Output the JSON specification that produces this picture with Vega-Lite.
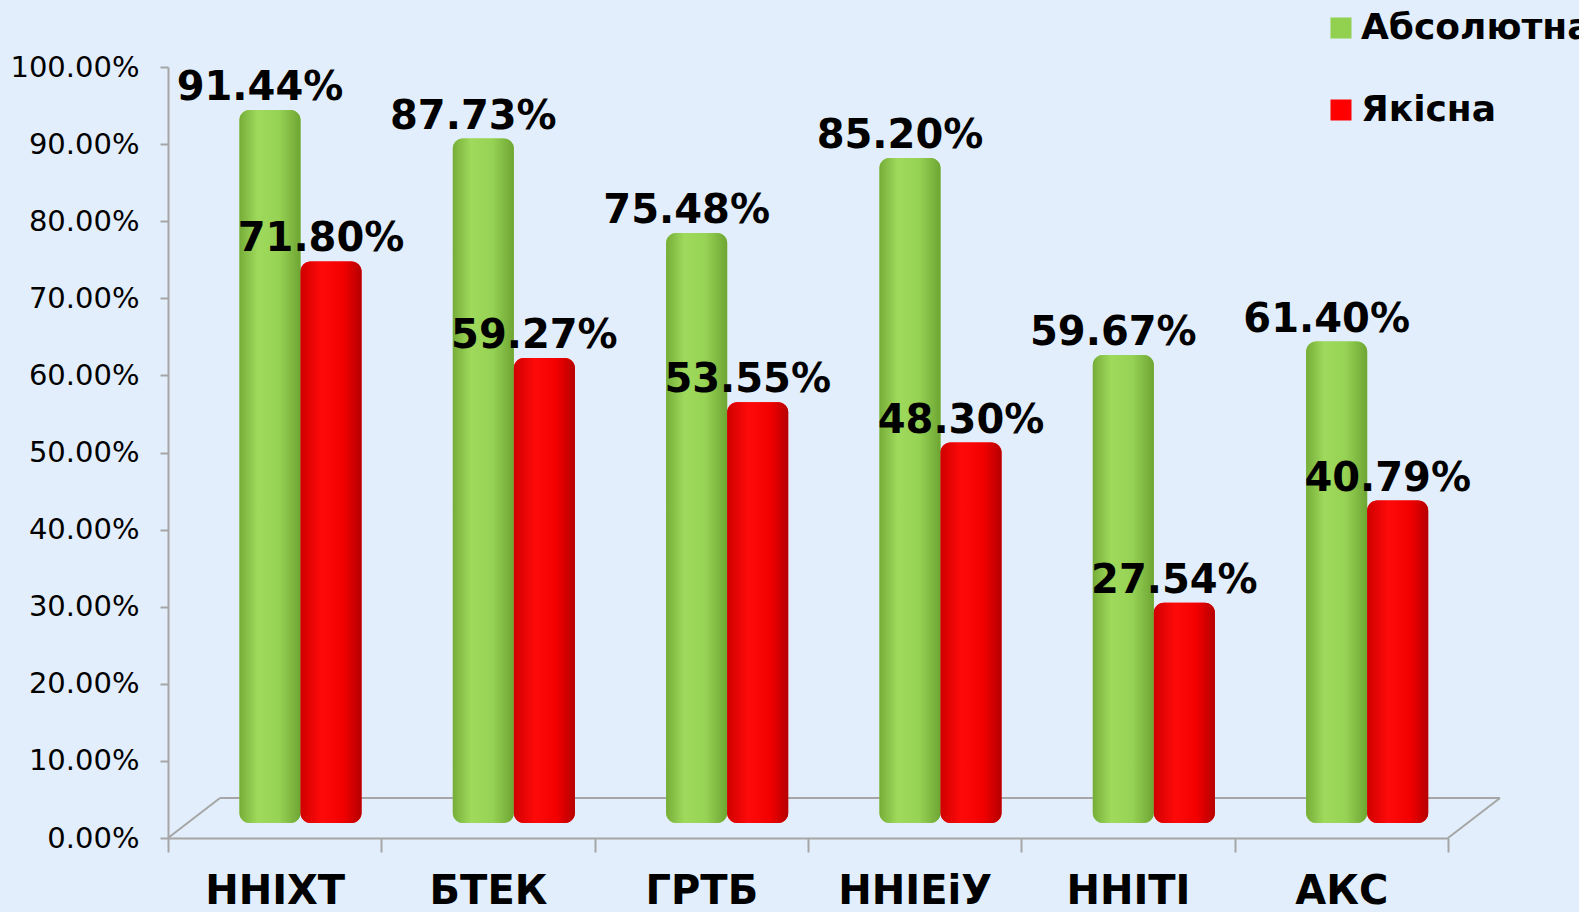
{
  "$schema": "https://vega.github.io/schema/vega-lite/v6.json",
  "autosize": {"type": "none"},
  "width": 1280,
  "height": 771,
  "padding": {"left": 168, "top": 67, "right": 131, "bottom": 74},
  "background": "#e2eefb",
  "config": {"view": {"stroke": null}},
  "data": {"values": [
    {"unit": "ННІХТ", "series": "Абсолютна", "value": 0.9144},
    {"unit": "ННІХТ", "series": "Якісна", "value": 0.7180},
    {"unit": "БТЕК", "series": "Абсолютна", "value": 0.8773},
    {"unit": "БТЕК", "series": "Якісна", "value": 0.5927},
    {"unit": "ГРТБ", "series": "Абсолютна", "value": 0.7548},
    {"unit": "ГРТБ", "series": "Якісна", "value": 0.5355},
    {"unit": "ННІЕіУ", "series": "Абсолютна", "value": 0.8520},
    {"unit": "ННІЕіУ", "series": "Якісна", "value": 0.4830},
    {"unit": "ННІТІ", "series": "Абсолютна", "value": 0.5967},
    {"unit": "ННІТІ", "series": "Якісна", "value": 0.2754},
    {"unit": "АКС", "series": "Абсолютна", "value": 0.6140},
    {"unit": "АКС", "series": "Якісна", "value": 0.4079}
  ]},
  "layer": [
    {
      "data": {"values": [{"v": 0}]},
      "mark": {"type": "rule", "color": "#a6a6a6", "strokeWidth": 2, "xOffset": 52, "x2Offset": 52, "yOffset": -40},
      "encoding": {
        "x": {"datum": "ННІХТ", "bandPosition": 0},
        "x2": {"datum": "АКС", "bandPosition": 1},
        "y": {"field": "v", "type": "quantitative"}
      }
    },
    {
      "data": {"values": [{"v": 0}]},
      "mark": {"type": "rule", "color": "#a6a6a6", "strokeWidth": 2, "x2Offset": 52, "y2Offset": -40},
      "encoding": {
        "x": {"datum": "ННІХТ", "bandPosition": 0},
        "x2": {"datum": "ННІХТ", "bandPosition": 0},
        "y": {"field": "v", "type": "quantitative"},
        "y2": {"field": "v"}
      }
    },
    {
      "data": {"values": [{"v": 0}]},
      "mark": {"type": "rule", "color": "#a6a6a6", "strokeWidth": 2, "x2Offset": 52, "y2Offset": -40},
      "encoding": {
        "x": {"datum": "АКС", "bandPosition": 1},
        "x2": {"datum": "АКС", "bandPosition": 1},
        "y": {"field": "v", "type": "quantitative"},
        "y2": {"field": "v"}
      }
    },
    {
      "mark": {"type": "bar", "yOffset": -23, "y2Offset": -15, "cornerRadius": 10},
      "encoding": {
        "x": {"field": "unit", "type": "nominal", "sort": null,
          "scale": {"domain": ["ННІХТ", "БТЕК", "ГРТБ", "ННІЕіУ", "ННІТІ", "АКС"], "paddingInner": 0, "paddingOuter": 0},
          "axis": {"title": null, "labelAngle": 0, "bandPosition": 0.5, "labelAlign": "center", "tickBand": "extent", "domainColor": "#a6a6a6", "domainWidth": 2, "tickColor": "#a6a6a6", "tickWidth": 2, "tickSize": 14, "labelPadding": 19, "labelBaseline": "top", "labelFont": "DejaVu Sans", "labelFontWeight": "bold", "labelFontSize": 40, "labelColor": "#000000"}},
        "xOffset": {"field": "series", "type": "nominal", "sort": ["Абсолютна", "Якісна"], "scale": {"paddingInner": 0, "paddingOuter": 0.748, "align": 0.783}},
        "y": {"field": "value", "type": "quantitative", "scale": {"domain": [0, 1], "nice": false, "zero": true},
          "axis": {"title": null, "values": [0, 0.1, 0.2, 0.3, 0.4, 0.5, 0.6, 0.7, 0.8, 0.9, 1], "format": ".2%", "grid": false, "domainColor": "#a6a6a6", "domainWidth": 2, "tickColor": "#a6a6a6", "tickWidth": 2, "tickSize": 8, "labelPadding": 21, "labelFont": "DejaVu Sans", "labelFontSize": 29, "labelColor": "#000000", "labelFlush": false, "labelOverlap": false}},
        "y2": {"datum": 0},
        "color": {"field": "series", "type": "nominal", "sort": ["Абсолютна", "Якісна"],
          "scale": {"domain": ["Абсолютна", "Якісна"], "range": ["#92d050", "#ff0000"]},
          "legend": {"title": null, "orient": "none", "legendX": 1155, "legendY": -57, "symbolType": "square", "symbolSize": 441, "symbolStrokeWidth": 0, "labelFont": "DejaVu Sans", "labelFontWeight": "bold", "labelFontSize": 36, "labelColor": "#000000", "labelLimit": 400, "labelOffset": 2, "rowPadding": 46, "padding": 0}}
      }
    },
    {
      "transform": [{"filter": "datum.series === 'Абсолютна'"}],
      "mark": {"type": "bar", "yOffset": -23, "y2Offset": -15, "cornerRadius": 10,
        "fill": {"gradient": "linear", "x1": 0, "y1": 0, "x2": 1, "y2": 0, "stops": [
          {"offset": 0, "color": "#76ad38"}, {"offset": 0.3, "color": "#9fda5c"}, {"offset": 0.65, "color": "#96d254"}, {"offset": 1, "color": "#6ea533"}]}},
      "encoding": {
        "x": {"field": "unit", "type": "nominal", "sort": null},
        "xOffset": {"field": "series", "type": "nominal", "sort": ["Абсолютна", "Якісна"]},
        "y": {"field": "value", "type": "quantitative"},
        "y2": {"datum": 0}
      }
    },
    {
      "transform": [{"filter": "datum.series === 'Якісна'"}],
      "mark": {"type": "bar", "yOffset": -23, "y2Offset": -15, "cornerRadius": 10,
        "fill": {"gradient": "linear", "x1": 0, "y1": 0, "x2": 1, "y2": 0, "stops": [
          {"offset": 0, "color": "#d00000"}, {"offset": 0.35, "color": "#ff0a0a"}, {"offset": 0.7, "color": "#f20000"}, {"offset": 1, "color": "#b50000"}]}},
      "encoding": {
        "x": {"field": "unit", "type": "nominal", "sort": null},
        "xOffset": {"field": "series", "type": "nominal", "sort": ["Абсолютна", "Якісна"]},
        "y": {"field": "value", "type": "quantitative"},
        "y2": {"datum": 0}
      }
    },
    {
      "mark": {"type": "text", "font": "DejaVu Sans", "fontWeight": "bold", "fontSize": 40, "color": "#000000", "baseline": "alphabetic", "align": "center", "dy": -33, "dx": -10},
      "encoding": {
        "x": {"field": "unit", "type": "nominal", "sort": null},
        "xOffset": {"field": "series", "type": "nominal", "sort": ["Абсолютна", "Якісна"]},
        "y": {"field": "value", "type": "quantitative"},
        "text": {"field": "value", "type": "quantitative", "format": ".2%"}
      }
    }
  ]
}
